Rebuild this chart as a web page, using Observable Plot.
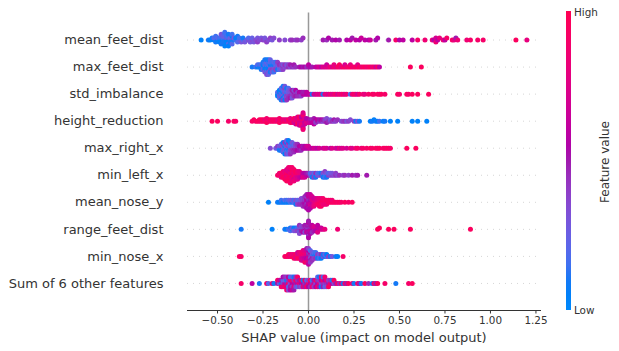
<!DOCTYPE html>
<html><head><meta charset="utf-8">
<script src="https://cdn.jsdelivr.net/npm/d3@7"></script>
<script src="https://cdn.jsdelivr.net/npm/@observablehq/plot@0.6"></script>
<style>
body{margin:0;background:#fff;font-family:"DejaVu Sans",sans-serif;}
#wrap{position:relative;width:619px;height:351px;overflow:hidden;}
#cbar{position:absolute;left:566px;top:11px;width:5px;height:299px;}
.cbl{position:absolute;left:574px;font-size:10.4px;color:#333;line-height:1;transform:translateY(-50%);}
#fv{position:absolute;left:605px;top:162px;transform:translate(-50%,-50%) rotate(-90deg);font-size:12px;color:#333;white-space:nowrap;}
</style></head><body>
<div id="wrap"><div id="chart"></div><div id="cbar"></div><div class="cbl" id="hi" style="top:12px">High</div><div class="cbl" id="lo" style="top:310px">Low</div><div id="fv">Feature value</div></div>
<script>
// ---- data: [SHAP value, scaled feature value 0..1] ----
const features = ["mean_feet_dist","max_feet_dist","std_imbalance","height_reduction","max_right_x","min_left_x","mean_nose_y","range_feet_dist","min_nose_x","Sum of 6 other features"];
const xTicks = [-0.5,-0.25,0,0.25,0.5,0.75,1,1.25];
const xLabel = "SHAP value (impact on model output)";
const colorLabels = ["Low","High","Feature value"];

const mean_feet_dist = [[-.59,.05],[-.55,.1],[-.54,.05],
[-.53,.1],[-.52,.05],[-.52,.2],[-.51,.1],[-.51,.15],[-.50,.05],[-.50,.2],[-.49,.1],[-.49,.15],[-.49,.05],[-.48,.2],[-.48,.1],[-.48,.3],[-.47,.05],[-.47,.15],[-.47,.1],[-.47,.25],[-.46,.1],[-.46,.2],[-.46,.05],[-.46,.15],[-.45,.1],[-.45,.3],[-.45,.05],[-.45,.15],[-.44,.2],[-.44,.1],[-.44,.05],[-.43,.15],[-.43,.25],[-.43,.1],[-.42,.05],[-.42,.2],[-.42,.15],[-.41,.1],[-.41,.3],[-.40,.15],[-.40,.05],[-.39,.2],[-.39,.1],[-.38,.25],[-.38,.15],[-.37,.3],[-.36,.2],[-.36,.1],[-.35,.3],
[-.34,.25],[-.33,.35],[-.33,.2],[-.32,.3],[-.31,.35],[-.31,.25],[-.30,.3],[-.29,.35],[-.28,.3],[-.28,.4],[-.27,.35],[-.26,.3],[-.25,.4],[-.24,.35],[-.24,.3],[-.23,.4],[-.22,.35],[-.21,.4],[-.20,.3],[-.19,.35],
[-.16,.4],[-.13,.35],[-.10,.4],[-.09,.45],[-.07,.4],[-.06,.45],[-.04,.4],[-.03,.45],
[.08,.5],[.10,.45],[.11,.55],[.13,.5],[.15,.55],[.17,.5],[.21,.55],[.23,.6],[.24,.5],[.26,.6],[.28,.55],[.29,.65],[.31,.6],[.33,.55],[.34,.65],[.37,.5],[.38,.55],[.44,.5],[.48,.9],[.50,.55],[.52,.6],[.57,.6],[.60,.9],[.64,.85],[.68,.8],[.69,.55],[.70,.7],[.70,.85],[.71,.6],[.72,.8],[.74,.85],[.75,.6],[.76,.9],[.79,.9],[.80,.8],[.81,.5],[.82,.85],[.87,.85],[.89,.9],[.93,.9],[.96,.9],[1.14,.95],[1.20,.8]];

const max_feet_dist = [[-.31,.1],[-.29,.15],[-.28,.05],[-.28,.2],[-.27,.1],[-.27,.15],[-.26,.05],[-.26,.2],[-.26,.1],[-.25,.15],[-.25,.05],[-.25,.25],[-.25,.1],[-.24,.1],[-.24,.2],[-.24,.05],[-.24,.15],[-.24,.3],[-.24,.1],[-.23,.05],[-.23,.15],[-.23,.1],[-.23,.25],[-.23,.2],[-.23,.1],[-.23,.35],[-.22,.1],[-.22,.2],[-.22,.05],[-.22,.15],[-.22,.3],[-.22,.1],[-.22,.25],[-.21,.15],[-.21,.05],[-.21,.35],[-.21,.2],[-.21,.1],[-.21,.25],[-.20,.2],[-.20,.1],[-.20,.4],[-.20,.15],[-.20,.3],[-.19,.25],[-.19,.1],[-.19,.35],[-.19,.2],[-.19,.15],[-.18,.3],[-.18,.2],[-.18,.4],[-.18,.15],[-.17,.35],[-.17,.25],[-.17,.1],[-.17,.4],[-.16,.3],[-.16,.45],[-.16,.2],[-.15,.35],[-.15,.4],[-.15,.25],[-.14,.45],[-.14,.3],[-.14,.4],[-.13,.35],[-.13,.45],[-.12,.4],[-.12,.3],[-.11,.45],[-.11,.4],[-.10,.35],[-.10,.5],[-.09,.45],[-.08,.4],[-.08,.5],[-.07,.45],
[-.05,.5],[-.04,.55],[-.03,.5],[-.02,.55],[-.01,.45],[.00,.5],[.00,.6],[.01,.55],[.02,.5],
[.04,.6],[.05,.65],[.06,.7],[.07,.6],[.08,.75],[.09,.7],[.10,.8],[.10,.65],[.11,.75],[.12,.85],[.13,.7],[.14,.9],[.14,.8],[.15,.75],[.16,.9],[.17,.85],[.17,.95],[.18,.8],[.19,.9],[.20,.95],[.20,.7],[.21,.85],[.22,.9],[.23,.95],[.23,.8],[.24,.9],[.25,.85],[.26,.95],[.27,.9],[.27,.75],[.28,.95],[.29,.85],[.30,.9],[.31,.95],[.32,.85],[.33,.9],[.34,.95],[.35,.8],[.36,.9],[.37,.65],[.38,.95],[.39,.6],[.56,.95],[.62,.95]];

const std_imbalance = [[-.17,.1],[-.17,.2],[-.17,.05],
[-.16,.15],[-.16,.1],[-.16,.3],[-.16,.05],[-.16,.2],
[-.15,.1],[-.15,.25],[-.15,.15],[-.15,.05],[-.15,.35],[-.15,.2],[-.15,.1],
[-.14,.2],[-.14,.1],[-.14,.3],[-.14,.15],[-.14,.05],[-.14,.25],[-.14,.4],[-.14,.1],
[-.13,.15],[-.13,.35],[-.13,.1],[-.13,.25],[-.13,.2],[-.13,.4],[-.13,.05],[-.13,.3],
[-.12,.3],[-.12,.15],[-.12,.4],[-.12,.2],[-.12,.35],[-.12,.1],[-.12,.45],
[-.11,.35],[-.11,.25],[-.11,.4],[-.11,.3],[-.11,.45],[-.11,.2],
[-.10,.4],[-.10,.3],[-.10,.45],[-.10,.35],[-.10,.5],
[-.09,.45],[-.09,.35],[-.09,.4],[-.09,.5],[-.09,.3],
[-.08,.4],[-.08,.5],[-.08,.45],[-.08,.35],
[-.07,.45],[-.07,.4],[-.07,.5],[-.07,.55],
[-.06,.5],[-.06,.4],[-.06,.45],
[-.05,.5],[-.05,.55],[-.05,.45],
[-.04,.5],[-.04,.55],[-.04,.4],
[-.03,.55],[-.03,.5],[-.02,.6],[-.02,.5],[-.01,.55],[-.01,.6],[.00,.6],
[.01,.65],[.02,.1],[.03,.7],[.04,.65],[.05,.75],[.06,.7],[.07,.8],[.08,.1],[.09,.75],[.10,.8],[.11,.7],[.12,.85],[.13,.75],[.14,.8],[.15,.9],[.16,.7],[.17,.85],[.18,.8],[.19,.9],[.20,.75],[.21,.85],[.23,.15],[.24,.8],[.25,.9],[.26,.85],[.27,.7],[.28,.9],[.30,.85],[.31,.8],[.33,.9],[.35,.95],[.36,.9],[.38,.95],[.39,.9],[.40,.95],[.42,.9],[.49,.95],[.50,.9],[.54,.95],[.55,.9],[.57,.95],[.60,.95],[.66,.95]];

const height_reduction = [[-.53,.95],[-.50,.95],[-.44,.9],[-.41,.95],[-.40,.9],
[-.31,.9],[-.30,.95],[-.29,.9],[-.28,.95],
[-.27,.9],[-.27,.95],[-.26,.85],[-.26,.95],[-.25,.9],[-.25,.95],[-.24,.9],[-.24,.85],[-.23,.95],[-.23,.9],[-.22,.95],[-.22,.85],
[-.21,.9],[-.21,.95],[-.20,.85],[-.20,.9],[-.19,.95],[-.19,.9],[-.18,.85],[-.18,.95],[-.17,.9],[-.17,.8],[-.16,.95],[-.16,.9],[-.15,.85],[-.15,.95],[-.14,.9],[-.14,.8],[-.13,.95],[-.13,.85],[-.12,.9],[-.12,.75],[-.11,.85],[-.11,.95],[-.10,.9],[-.10,.8],
[-.09,.85],[-.09,.75],[-.09,.95],
[-.08,.9],[-.08,.8],[-.08,.7],[-.08,.95],
[-.07,.85],[-.07,.75],[-.07,.9],[-.07,.8],[-.07,.65],
[-.06,.9],[-.06,.7],[-.06,.85],[-.06,.8],[-.06,.95],[-.06,.75],
[-.05,.8],[-.05,.9],[-.05,.7],[-.05,.85],[-.05,.75],[-.05,.95],[-.05,.65],
[-.04,.75],[-.04,.85],[-.04,.7],[-.04,.9],[-.04,.8],[-.04,.6],[-.04,.85],
[-.03,.8],[-.03,.7],[-.03,.9],[-.03,.65],[-.03,.75],[-.03,.85],
[-.02,.7],[-.02,.8],[-.02,.6],[-.02,.75],[-.02,.65],
[-.01,.7],[-.01,.6],[-.01,.75],[-.01,.55],
[.00,.65],[.00,.55],[.00,.7],
[.01,.6],[.01,.5],[.01,.65],[.02,.55],[.02,.45],[.02,.6],[.03,.5],[.03,.6],[.04,.45],[.04,.55],[.04,.4],[.05,.5],[.05,.6],[.06,.4],[.06,.5],[.07,.45],[.07,.55],[.08,.35],[.08,.5],[.09,.45],[.09,.4],[.10,.5],[.10,.35],[.11,.45],[.12,.4],[.12,.3],[.13,.45],[.14,.35],[.14,.5],[.15,.4],[.16,.45],
[.18,.35],[.19,.4],[.20,.45],[.21,.3],[.22,.4],[.23,.35],[.25,.4],[.26,.1],[.27,.35],[.28,.1],
[.34,.05],[.35,.1],[.36,.05],[.37,.1],[.38,.05],[.39,.15],[.41,.05],[.42,.1],[.45,.05],[.49,.05],[.57,.05],[.60,.05],[.65,.05]];

const max_right_x = [[-.21,.35],[-.18,.3],[-.17,.2],[-.17,.4],[-.16,.15],[-.16,.3],[-.16,.1],
[-.15,.2],[-.15,.35],[-.15,.1],[-.15,.25],
[-.14,.1],[-.14,.3],[-.14,.15],[-.14,.4],[-.14,.2],[-.14,.05],
[-.13,.25],[-.13,.1],[-.13,.35],[-.13,.15],[-.13,.2],[-.13,.45],[-.13,.05],
[-.12,.15],[-.12,.3],[-.12,.1],[-.12,.4],[-.12,.2],[-.12,.05],[-.12,.35],[-.12,.25],
[-.11,.2],[-.11,.4],[-.11,.1],[-.11,.3],[-.11,.15],[-.11,.45],[-.11,.25],[-.11,.05],
[-.10,.3],[-.10,.15],[-.10,.4],[-.10,.2],[-.10,.35],[-.10,.1],[-.10,.45],
[-.09,.35],[-.09,.25],[-.09,.45],[-.09,.15],[-.09,.4],[-.09,.3],
[-.08,.4],[-.08,.3],[-.08,.5],[-.08,.2],[-.08,.45],
[-.07,.45],[-.07,.35],[-.07,.5],[-.07,.4],
[-.06,.5],[-.06,.4],[-.06,.55],[-.06,.45],
[-.05,.45],[-.05,.55],[-.05,.5],
[-.04,.5],[-.04,.6],[-.04,.45],
[-.03,.55],[-.03,.5],[-.02,.6],[-.02,.55],[-.01,.55],[-.01,.65],[.00,.6],[.00,.7],
[.01,.65],[.02,.6],[.03,.7],[.04,.65],[.05,.6],[.06,.7],[.08,.65],[.09,.75],[.10,.7],[.12,.6],[.13,.75],[.15,.7],[.16,.65],[.17,.8],[.18,.7],[.19,.75],[.21,.7],[.23,.8],[.24,.75],[.26,.85],[.27,.9],[.29,.85],[.30,.9],[.32,.9],[.34,.95],[.35,.9],[.37,.95],[.38,.9],[.39,.95],[.41,.9],[.42,.95],[.43,.9],[.44,.95],[.45,.9],[.54,.95],[.59,.95]];

const min_left_x = [[-.17,.9],[-.16,.95],[-.16,.85],[-.15,.9],[-.15,.95],[-.15,.8],
[-.14,.9],[-.14,.85],[-.14,.95],[-.14,.9],
[-.13,.95],[-.13,.85],[-.13,.9],[-.13,.8],[-.13,.95],
[-.12,.9],[-.12,.95],[-.12,.8],[-.12,.85],[-.12,.9],[-.12,.75],[-.12,.95],
[-.11,.85],[-.11,.95],[-.11,.9],[-.11,.75],[-.11,.9],[-.11,.8],[-.11,.95],[-.11,.85],
[-.10,.9],[-.10,.8],[-.10,.95],[-.10,.85],[-.10,.9],[-.10,.7],[-.10,.95],[-.10,.85],[-.10,.9],
[-.09,.85],[-.09,.95],[-.09,.75],[-.09,.9],[-.09,.85],[-.09,.95],[-.09,.8],[-.09,.9],
[-.08,.9],[-.08,.8],[-.08,.95],[-.08,.85],[-.08,.7],[-.08,.9],[-.08,.85],
[-.07,.85],[-.07,.9],[-.07,.75],[-.07,.95],[-.07,.8],
[-.06,.8],[-.06,.9],[-.06,.7],[-.06,.85],[-.06,.75],
[-.05,.75],[-.05,.85],[-.05,.65],[-.05,.8],
[-.04,.7],[-.04,.8],[-.04,.6],
[-.03,.7],[-.03,.6],[-.03,.75],
[-.02,.65],[-.02,.55],[-.02,.7],
[-.01,.6],[-.01,.5],[.00,.55],[.00,.45],
[.01,.4],[.01,.2],[.02,.15],[.02,.35],[.02,.1],[.03,.1],[.03,.2],[.03,.4],[.04,.15],[.04,.45],[.04,.1],[.05,.35],[.05,.2],[.06,.3],[.06,.15],[.07,.4],[.07,.1],[.08,.15],[.08,.35],[.08,.1],[.09,.1],[.09,.25],[.09,.15],[.09,.4],[.10,.15],[.10,.3],[.10,.1],[.11,.4],[.11,.2],[.12,.35],[.12,.25],[.13,.4],[.13,.3],[.14,.35],[.15,.45],[.15,.4],[.16,.35],[.17,.45],[.19,.4],[.20,.45],[.22,.4],[.24,.5],[.26,.45],[.27,.5],[.32,.5]];

const mean_nose_y = [[-.22,.05],[-.17,.1],[-.16,.05],[-.15,.1],[-.15,.15],[-.14,.1],[-.13,.05],[-.13,.2],[-.12,.1],[-.12,.15],[-.11,.05],[-.11,.2],[-.10,.15],[-.10,.25],[-.09,.1],[-.09,.3],[-.08,.2],[-.08,.15],
[-.07,.25],[-.07,.35],[-.07,.1],
[-.06,.3],[-.06,.2],[-.06,.4],
[-.05,.35],[-.05,.25],[-.05,.45],
[-.04,.4],[-.04,.3],[-.04,.45],[-.04,.35],
[-.03,.45],[-.03,.4],[-.03,.5],[-.03,.35],[-.03,.45],
[-.02,.5],[-.02,.45],[-.02,.55],[-.02,.4],[-.02,.5],[-.02,.45],
[-.01,.5],[-.01,.55],[-.01,.45],[-.01,.6],[-.01,.5],[-.01,.4],[-.01,.55],[-.01,.5],
[.00,.55],[.00,.5],[.00,.6],[.00,.45],[.00,.55],[.00,.65],[.00,.5],[.00,.6],[.00,.55],
[.01,.6],[.01,.55],[.01,.65],[.01,.5],[.01,.7],[.01,.6],[.01,.55],[.01,.65],
[.02,.65],[.02,.7],[.02,.6],[.02,.75],[.02,.65],[.02,.7],
[.03,.7],[.03,.8],[.03,.75],[.03,.65],[.03,.8],
[.04,.8],[.04,.75],[.04,.85],[.04,.7],
[.05,.85],[.05,.8],[.05,.9],[.05,.75],
[.06,.9],[.06,.85],[.06,.95],[.06,.8],[.06,.9],
[.07,.85],[.07,.95],[.07,.9],[.07,.8],[.07,.95],
[.08,.9],[.08,.95],[.08,.85],[.08,.9],
[.09,.95],[.09,.9],[.09,.85],
[.10,.9],[.10,.95],[.10,.85],
[.11,.95],[.11,.9],[.12,.9],[.12,.95],[.13,.95],[.13,.85],
[.14,.9],[.15,.95],[.16,.9],[.17,.95],[.18,.9],[.20,.95],[.22,.9],[.24,.95]];

const range_feet_dist = [[-.37,.1],[-.20,.05],[-.13,.1],[-.12,.05],[-.11,.15],[-.10,.1],[-.10,.2],[-.09,.1],[-.09,.25],[-.08,.15],[-.08,.05],[-.08,.3],[-.07,.2],[-.07,.1],[-.07,.35],
[-.06,.25],[-.06,.15],[-.06,.4],
[-.05,.3],[-.05,.2],[-.05,.45],[-.05,.35],
[-.04,.4],[-.04,.25],[-.04,.5],[-.04,.35],
[-.03,.45],[-.03,.3],[-.03,.5],[-.03,.4],[-.03,.55],
[-.02,.5],[-.02,.4],[-.02,.55],[-.02,.45],[-.02,.35],[-.02,.5],
[-.01,.45],[-.01,.55],[-.01,.5],[-.01,.4],[-.01,.6],[-.01,.5],
[.00,.5],[.00,.45],[.00,.55],[.00,.6],[.00,.4],[.00,.5],[.00,.55],
[.01,.55],[.01,.5],[.01,.6],[.01,.45],[.01,.65],[.01,.5],[.01,.55],
[.02,.6],[.02,.5],[.02,.55],[.02,.65],[.02,.45],[.02,.6],
[.03,.55],[.03,.65],[.03,.5],[.03,.7],
[.04,.6],[.04,.7],[.04,.55],
[.05,.65],[.05,.75],[.05,.6],
[.06,.7],[.06,.6],[.07,.75],[.07,.65],
[.08,.7],[.09,.8],[.16,.85],[.38,.95],[.39,.95],[.44,.95],[.47,.95],[.56,.95],[.89,.95]];

const min_nose_x = [[-.38,.95],[-.37,.9],[-.13,.9],[-.12,.95],[-.11,.85],[-.11,.95],[-.10,.9],[-.10,.8],[-.09,.95],[-.09,.85],[-.08,.9],[-.08,.8],[-.08,.95],[-.07,.85],[-.07,.95],[-.07,.75],
[-.06,.9],[-.06,.8],[-.06,.95],[-.06,.7],
[-.05,.85],[-.05,.75],[-.05,.95],[-.05,.8],
[-.04,.8],[-.04,.9],[-.04,.7],[-.04,.85],[-.04,.75],
[-.03,.75],[-.03,.85],[-.03,.65],[-.03,.9],[-.03,.7],[-.03,.8],
[-.02,.7],[-.02,.8],[-.02,.6],[-.02,.85],[-.02,.65],[-.02,.75],[-.02,.9],
[-.01,.65],[-.01,.75],[-.01,.55],[-.01,.8],[-.01,.6],[-.01,.7],[-.01,.85],[-.01,.5],
[.00,.6],[.00,.5],[.00,.7],[.00,.45],[.00,.65],[.00,.55],[.00,.75],[.00,.4],[.00,.6],
[.01,.55],[.01,.45],[.01,.35],[.01,.6],[.01,.5],[.01,.2],[.01,.4],
[.02,.4],[.02,.15],[.02,.5],[.02,.3],[.02,.45],
[.03,.3],[.03,.1],[.03,.4],[.03,.2],
[.04,.35],[.04,.1],[.04,.45],[.04,.15],
[.05,.2],[.05,.4],[.05,.1],
[.06,.1],[.06,.3],[.06,.15],
[.07,.15],[.07,.45],[.07,.05],
[.08,.35],[.08,.1],[.09,.1],[.09,.25],[.10,.2],[.10,.05],
[.11,.4],[.12,.1],[.13,.3],[.15,.1],[.16,.05],[.19,.9]];

const other_features = [[-.37,.9],[-.31,.6],[-.27,.1],[-.23,.9],[-.22,.2],[-.20,.85],[-.19,.1],
[-.17,.5],[-.17,.9],[-.16,.3],[-.16,.7],
[-.15,.1],[-.15,.5],[-.15,.9],
[-.14,.4],[-.14,.2],[-.14,.8],[-.14,.55],
[-.13,.6],[-.13,.3],[-.13,.95],[-.13,.45],
[-.12,.5],[-.12,.1],[-.12,.7],[-.12,.4],[-.12,.85],
[-.11,.9],[-.11,.45],[-.11,.2],[-.11,.6],[-.11,.35],
[-.10,.35],[-.10,.85],[-.10,.5],[-.10,.15],[-.10,.55],
[-.09,.55],[-.09,.9],[-.09,.4],[-.09,.25],[-.09,.65],
[-.08,.6],[-.08,.45],[-.08,.8],[-.08,.1],[-.08,.5],
[-.07,.5],[-.07,.9],[-.07,.35],[-.07,.45],
[-.06,.65],[-.06,.45],[-.06,.2],[-.06,.9],
[-.05,.85],[-.05,.5],[-.05,.4],
[-.04,.6],[-.04,.9],[-.04,.3],
[-.03,.55],[-.03,.1],[-.03,.8],
[-.02,.45],[-.02,.95],[-.02,.5],
[-.01,.5],[-.01,.2],[-.01,.9],
[.00,.85],[.00,.4],[.00,.55],
[.01,.6],[.01,.9],[.01,.45],
[.02,.45],[.02,.15],[.02,.85],
[.03,.7],[.03,.5],[.03,.4],
[.04,.35],[.04,.9],[.04,.55],
[.05,.55],[.05,.45],[.05,.9],[.05,.2],
[.06,.8],[.06,.4],[.06,.5],[.06,.1],
[.07,.35],[.07,.6],[.07,.1],[.07,.9],
[.08,.45],[.08,.9],[.08,.5],[.08,.15],
[.09,.4],[.09,.55],[.09,.2],[.09,.85],
[.10,.45],[.10,.85],[.10,.35],
[.11,.5],[.11,.4],[.11,.95],
[.12,.9],[.12,.45],[.13,.6],[.13,.1],[.14,.35],[.14,.95],
[.15,.5],[.16,.9],[.17,.45],[.18,.85],[.19,.1],[.20,.9],[.21,.5],[.22,.95],[.24,.85],[.25,.1],[.27,.9],[.28,.5],[.29,.1],[.31,.95],[.33,.45],[.35,.1],[.36,.9],[.37,.5],[.38,.95],[.42,.9],[.48,.1],[.55,.9],[.57,.95]];

const rowsData = [mean_feet_dist,max_feet_dist,std_imbalance,height_reduction,max_right_x,min_left_x,mean_nose_y,range_feet_dist,min_nose_x,other_features];

// ---- SHAP red_blue colormap (LCH interpolation) ----
function shapColor(t) {
  t = Math.max(0, Math.min(1, t));
  const l = t < 0.5 ? 54 + (40 - 54) * (t / 0.5) : 40 + (54 - 40) * ((t - 0.5) / 0.5);
  const c = 70 + (90 - 70) * t;
  const h = 266.93 + (380.32 - 266.93) * t;
  return d3.hcl(h % 360, c, l).formatRgb();
}

// ---- beeswarm offsets, same algorithm as shap.summary_plot ----
function swarmOffsets(vals) {
  const n = vals.length, nbins = 100;
  const mn = d3.min(vals), mx = d3.max(vals);
  const quant = vals.map(v => Math.round(nbins * (v - mn) / (mx - mn + 1e-8)));
  const inds = d3.range(n).sort((a, b) => quant[a] - quant[b] || a - b);
  let layer = 0, last = -1;
  const ys = new Array(n).fill(0);
  for (const i of inds) {
    if (quant[i] !== last) layer = 0;
    ys[i] = Math.ceil(layer / 2) * ((layer % 2) * 2 - 1);
    layer++; last = quant[i];
  }
  const m = d3.max(ys) + 1;
  return ys.map(y => y * 0.9 * (0.4 / m));
}

const n = features.length;
const points = [];
rowsData.forEach((arr, i) => {
  const pos = n - 1 - i;
  const offs = swarmOffsets(arr.map(d => d[0]));
  arr.forEach((d, j) => points.push({feature: features[i], shap: d[0], value: d[1], y: pos + offs[j]}));
});
const rowPos = features.map((f, i) => n - 1 - i);

const chart = Plot.plot({
  width: 619, height: 351,
  marginTop: 12.5, marginRight: 79, marginBottom: 41, marginLeft: 187,
  style: {fontFamily: "DejaVu Sans", background: "#fff", color: "#333", overflow: "visible"},
  x: {domain: [-0.665, 1.275]},
  y: {domain: [-1, n]},
  color: {type: "linear", domain: [0, 1], interpolate: shapColor},
  marks: [
    Plot.ruleY(rowPos, {stroke: "#ccc", strokeWidth: 0.8, strokeDasharray: "1,5"}),
    Plot.ruleX([0], {stroke: "#999", strokeWidth: 1.5}),
    Plot.dot(points, {x: "shap", y: "y", fill: "value", r: 2.5}),
    Plot.axisY({ticks: rowPos, tickFormat: p => features[n - 1 - p], tickSize: 0, tickPadding: 24, fontSize: 13, label: null}),
    Plot.axisX({ticks: xTicks, tickFormat: d3.format(".2f"), tickSize: 3.5, tickPadding: 3, fontSize: 10.4, label: null}),
    Plot.frame({anchor: "bottom", stroke: "#333"}),
    Plot.text([xLabel], {frameAnchor: "bottom", dy: 27, lineAnchor: "middle", fontSize: 13, fill: "#333"})
  ]
});
document.getElementById("chart").appendChild(chart);

// colorbar
const stops = d3.range(0, 21).map(i => `${shapColor(i / 20)} ${i * 5}%`).join(",");
document.getElementById("cbar").style.background = `linear-gradient(to top, ${stops})`;
document.getElementById("lo").textContent = colorLabels[0];
document.getElementById("hi").textContent = colorLabels[1];
document.getElementById("fv").textContent = colorLabels[2];
</script>
</body></html>
